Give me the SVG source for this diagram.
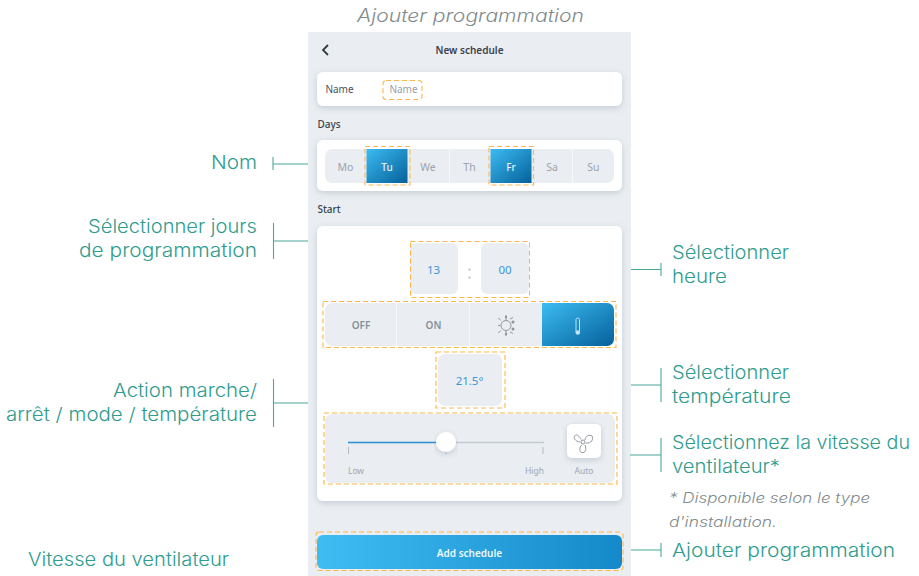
<svg xmlns="http://www.w3.org/2000/svg" width="919" height="576" viewBox="0 0 919 576">
<style>
.lb{font-family:"Inter","Liberation Sans",sans-serif;font-size:18.500px;font-weight:300;fill:#2f9c8e}
.ti{font-family:"Inter","Liberation Sans",sans-serif;font-style:italic;font-weight:300;fill:#7f8c8e}
.ui{font-family:"Noto Sans","Open Sans",sans-serif;font-size:10px;text-anchor:middle}
.c{fill:#fff;filter:url(#sh)}
.b{fill:#eaeef2}
.d{fill:none;stroke:#fdb64a;stroke-width:1.100;stroke-dasharray:5 3}
.cn{stroke:#4aa89c;stroke-width:1.100;fill:none}
.day{fill:#9aa3ad;font-size:10.500px}
.bl{fill:#3c94d6;font-size:11.500px}
.gr{fill:#868e98;font-weight:600;font-size:10px}
.sm{fill:#a0a7b0;font-size:8.500px}
.sep{stroke:#f6f8fa;stroke-width:1}
.ic{fill:none;stroke:#8f969f;stroke-width:1}
</style>
<defs>
<filter id="sh" x="-10%" y="-20%" width="120%" height="150%"><feDropShadow dx="0" dy="2" stdDeviation="3" flood-color="#7d8a99" flood-opacity=".35"/></filter>
<linearGradient id="g1" x1="0" y1="0" x2="1" y2="1"><stop offset="0" stop-color="#3cbcf2"/><stop offset="1" stop-color="#05609a"/></linearGradient>
<linearGradient id="g2" x1="0" y1="0" x2="1" y2="0"><stop offset="0" stop-color="#3fbdf3"/><stop offset="1" stop-color="#1589c9"/></linearGradient>
</defs>
<rect width="919" height="576" fill="#fff"/>
<text class="ti" x="357" y="22" font-size="18" textLength="227" lengthAdjust="spacingAndGlyphs">Ajouter programmation</text>
<g id="phone">
<rect x="308" y="32" width="323" height="544" class="b"/>
<path d="M328 45l-5 5 5 5" fill="none" stroke="#2f3a44" stroke-width="1.800"/>
<text class="ui" x="469.500" y="54" fill="#3a424c" font-weight="600" font-size="10">New schedule</text>
</g>
<g id="name-card">
<rect x="317" y="72" width="305" height="34" rx="6" class="c"/>
<text class="ui" x="339.500" y="93" fill="#4a525c" font-size="10">Name</text>
<text class="ui" x="403.500" y="93" fill="#9aa0a8" font-size="10">Name</text>
<rect x="383" y="80.500" width="39" height="19" rx="3" class="d"/>
</g>
<text class="ui" x="329" y="128" fill="#3a424c" font-size="10" font-weight="500">Days</text>
<g id="days-card">
<rect x="317" y="140" width="305" height="51" rx="6" class="c"/>
<rect x="325" y="149" width="289" height="34" rx="7" class="b"/>
<path class="sep" d="M449.500 149v34M572.500 149v34"/>
<rect x="366.500" y="149" width="41" height="34" fill="url(#g1)"/>
<rect x="490.500" y="149" width="41" height="34" fill="url(#g1)"/>
<text class="ui day" x="345.500" y="171">Mo</text>
<text class="ui" x="387" y="171" fill="#e6f3fb" font-size="10.500" font-weight="500">Tu</text>
<text class="ui day" x="428" y="171">We</text>
<text class="ui day" x="469.500" y="171">Th</text>
<text class="ui" x="511" y="171" fill="#e6f3fb" font-size="10.500" font-weight="500">Fr</text>
<text class="ui day" x="552" y="171">Sa</text>
<text class="ui day" x="593.500" y="171">Su</text>
<rect x="365" y="146.500" width="45" height="38.500" class="d"/>
<rect x="489" y="146.500" width="44.500" height="38.500" class="d"/>
</g>
<text class="ui" x="329" y="213" fill="#3a424c" font-size="10" font-weight="500">Start</text>
<g id="start-card">
<rect x="317" y="226" width="305" height="275" rx="6" class="c"/>
</g>
<g id="time">
<rect x="410" y="243" width="48" height="51" rx="6" class="b"/>
<rect x="481" y="243" width="48" height="51" rx="6" class="b"/>
<circle cx="469.500" cy="269.500" r="1.500" fill="#d3d8de"/>
<circle cx="469.500" cy="277.500" r="1.500" fill="#d3d8de"/>
<text class="ui bl" x="433.500" y="274">13</text>
<text class="ui bl" x="505" y="274">00</text>
<rect x="410.500" y="241.500" width="119" height="56" class="d"/>
</g>
<g id="mode">
<rect x="325" y="303" width="289" height="43" rx="7" class="b"/>
<path class="sep" d="M396.500 303v43M469.500 303v43"/>
<path d="M542 303h65a7 7 0 0 1 7 7v29a7 7 0 0 1-7 7h-65z" fill="url(#g1)"/>
<text class="ui gr" x="361" y="329">OFF</text>
<text class="ui gr" x="433.500" y="329">ON</text>
<g class="ic"><circle cx="506" cy="325.500" r="5"/><path d="M506 320v-5M506 331v5M500.500 325.500h-2.500M500.800 320.500l-2.500-2.500M500.800 330.500l-2.500 2.500M510 319l3-1.500M510 332l3 1.500"/></g>
<circle cx="513" cy="322" r="1.500" fill="#8f969f"/><circle cx="513" cy="329" r="1.500" fill="#8f969f"/><circle cx="506" cy="317" r="1.200" fill="#8f969f"/><circle cx="506" cy="334" r="1.200" fill="#8f969f"/>
<rect x="576" y="318" width="3.500" height="15" rx="1.700" fill="none" stroke="#bfe2f5" stroke-width="1"/>
<circle cx="577.800" cy="332.500" r="2.300" fill="#bfe2f5"/>
<rect x="323" y="301.500" width="293" height="46" class="d"/>
</g>
<g id="temperature">
<rect x="438" y="354" width="64" height="52" rx="7" class="b"/>
<text class="ui bl" x="469.500" y="385" font-size="12">21.5°</text>
<rect x="436" y="352" width="69" height="56" class="d"/>
</g>
<g id="fan">
<rect x="325" y="414" width="290" height="69" rx="7" class="b"/>
<path d="M348 442.500H544" stroke="#c3c9d2" stroke-width="1.500"/>
<path d="M348 442.500H446" stroke="#2d93d8" stroke-width="1.500"/>
<path d="M348.500 447v7M543 447v7M446 451v3" stroke="#b5bbc4" stroke-width="1"/>
<circle cx="446" cy="442" r="10" fill="#fff" filter="url(#sh)"/>
<text class="ui sm" x="356" y="474">Low</text>
<text class="ui sm" x="534.500" y="474">High</text>
<text class="ui sm" x="584" y="474">Auto</text>
<rect x="567" y="424" width="34" height="34" rx="5" class="c"/>
<g class="ic"><circle cx="583" cy="442" r="2"/>
<path d="M581 439.500c-1-3-5-6-6-4-2 2 0 6 5 6.500M585 440c0-4 5-6 7-4 2 3-1 8-6 7M582 445c-3 2-3 7 0 7.500 3 1 5-3 3-7.500"/></g>
<rect x="324" y="413" width="293" height="71" class="d"/>
</g>
<g id="add-button">
<rect x="317" y="535" width="305" height="34" rx="6" fill="url(#g2)"/>
<text class="ui" x="469.500" y="556.500" fill="#eef8fd" font-weight="600" font-size="10">Add schedule</text>
<rect x="316" y="532" width="307" height="38.500" rx="3" class="d"/>
</g>
<g id="connectors" class="cn">
<path d="M273 157v13M273 164H308"/>
<path d="M273.500 223v36M273.500 241H308"/>
<path d="M273.500 379v48M273.500 403H308"/>
<path d="M631 269.500H661M661 263v13"/>
<path d="M631 385H661M661 368v34"/>
<path d="M630 455H661M661 438v34"/>
<path d="M631 550H661M661 543v14"/>
</g>
<g id="label-nom"><text class="lb" x="211" y="169" textLength="46" lengthAdjust="spacingAndGlyphs">Nom</text></g>
<g id="label-jours"><text class="lb" x="88" y="233" textLength="169" lengthAdjust="spacingAndGlyphs">Sélectionner jours</text>
<text class="lb" x="79" y="257" textLength="178" lengthAdjust="spacingAndGlyphs">de programmation</text></g>
<g id="label-action"><text class="lb" x="113" y="397" textLength="144" lengthAdjust="spacingAndGlyphs">Action marche/</text>
<text class="lb" x="6" y="421" textLength="251" lengthAdjust="spacingAndGlyphs">arrêt / mode / température</text></g>
<g id="label-vitesse"><text class="lb" x="28" y="566" textLength="201" lengthAdjust="spacingAndGlyphs">Vitesse du ventilateur</text></g>
<g id="label-heure"><text class="lb" x="672" y="259" textLength="117" lengthAdjust="spacingAndGlyphs">Sélectionner</text>
<text class="lb" x="672" y="283" textLength="55" lengthAdjust="spacingAndGlyphs">heure</text></g>
<g id="label-temp"><text class="lb" x="672" y="379" textLength="117" lengthAdjust="spacingAndGlyphs">Sélectionner</text>
<text class="lb" x="672" y="403" textLength="119" lengthAdjust="spacingAndGlyphs">température</text></g>
<g id="label-ventilateur"><text class="lb" x="672" y="449" textLength="238" lengthAdjust="spacingAndGlyphs">Sélectionnez la vitesse du</text>
<text class="lb" x="672" y="473" textLength="108" lengthAdjust="spacingAndGlyphs">ventilateur*</text></g>
<g id="note"><text class="ti" x="669" y="503" font-size="14.500" textLength="201" lengthAdjust="spacingAndGlyphs">* Disponible selon le type</text>
<text class="ti" x="669" y="527" font-size="14.500" textLength="108" lengthAdjust="spacingAndGlyphs">d'installation.</text></g>
<g id="label-ajouter"><text class="lb" x="672" y="557" textLength="223" lengthAdjust="spacingAndGlyphs">Ajouter programmation</text></g>
</svg>
